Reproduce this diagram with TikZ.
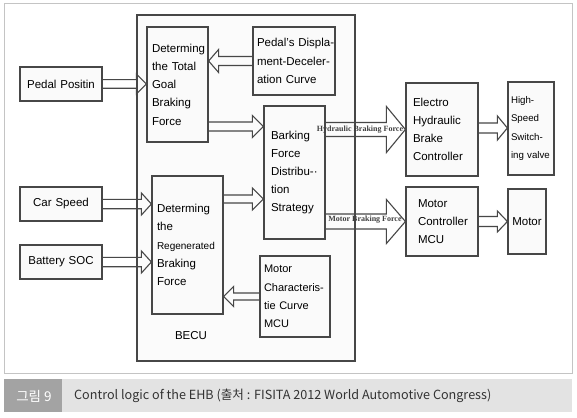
\documentclass[tikz,border=0pt]{standalone}
\usepackage{fontspec}
\setmainfont{Liberation Sans}
\newfontfamily\serifl{Liberation Serif}
\newfontfamily\kr{Noto Sans CJK KR}
\usetikzlibrary{calc}
\definecolor{bord}{HTML}{474747}
\definecolor{frame}{HTML}{C4C4C4}
\definecolor{capdark}{HTML}{A3A3A3}
\definecolor{caplight}{HTML}{E3E3E3}
\definecolor{captext}{HTML}{333333}
\tikzset{
  bx/.style={draw=bord, line width=1.2pt, fill=gray!4, inner ysep=0pt, align=left,
    font=\fontsize{11.5}{18.2}\selectfont\hyphenpenalty10000\exhyphenpenalty10000},
  inbx/.style={bx, align=center, minimum width=82pt, minimum height=34pt, text width=74pt, inner xsep=4pt},
  arr/.style={draw=bord, line width=1.1pt, line join=miter},
  lab/.style={font=\serifl\bfseries\fontsize{8}{9}\selectfont, text=black!75, inner sep=0pt},
}
\newcommand\barrow[5]{\draw[arr] let \p1=(#1), \p2=(#2) in
  (\x1,\y1+#3) -- ({\x2-(#5)},\y1+#3) -- ({\x2-(#5)},\y1+#4) -- (\x2,\y1)
  -- ({\x2-(#5)},\y1-#4) -- ({\x2-(#5)},\y1-#3) -- (\x1,\y1-#3);}
\begin{document}
\begin{tikzpicture}[x=1pt,y=-1pt]
\useasboundingbox (0,0) rectangle (577,417);
\fill[white] (0,0) rectangle (577,417);
\draw[frame, line width=1pt] (4,4) rectangle (572,373);
% BECU
\node[draw=bord, line width=1.5pt, fill=gray!3, minimum width=218pt, minimum height=346pt, inner sep=0pt] (becu) at (246,188) {};
\node[font=\fontsize{11.5}{14}\selectfont, inner sep=0pt] (becul) at (191,336) {BECU};
% input boxes
\node[inbx] (pp) at (61,84) {Pedal~Positin};
\node[inbx] (cs) at (61,204) {Car~Speed};
\node[inbx] (bs) at (61,262) {Battery~SOC};
% inner boxes
\node[bx, minimum width=61pt, minimum height=115pt, inner xsep=5pt, text width=51pt] (dt) at (177.5,84.5)
  {Determing\\the~Total\\Goal\\Braking\\Force};
\node[bx, minimum width=82pt, minimum height=68pt, inner xsep=4pt, text width=74pt] (pd) at (294,61)
  {Pedal’s~Displa-\\ment-Deceler-\\ation~Curve};
\node[bx, minimum width=61pt, minimum height=133pt, inner xsep=7pt, text width=47pt] (bf) at (294.5,172.5)
  {Barking\\Force\\Distribu-·\\tion\\Strategy};
\node[bx, minimum width=71pt, minimum height=138pt, inner xsep=5pt, text width=61pt] (rg) at (187.5,245)
  {Determing\\the\\{\fontsize{10}{18.2}\selectfont Regenerated}\\Braking\\Force};
\node[bx, minimum width=70pt, minimum height=81pt, inner xsep=4pt, text width=62pt,
  font=\fontsize{11}{18.2}\selectfont\hyphenpenalty10000\exhyphenpenalty10000] (mc) at (295,296.5)
  {Motor\\Characteris-\\tie~Curve\\MCU};
% right boxes
\node[bx, minimum width=72pt, minimum height=93pt, inner xsep=7pt, text width=58pt] (eh) at (442,129.5)
  {Electro\\Hydraulic\\Brake\\Controller};
\node[bx, minimum width=46pt, minimum height=93pt, inner xsep=3pt, text width=40pt,
  font=\fontsize{9.7}{18.5}\selectfont\hyphenpenalty10000\exhyphenpenalty10000] (hs) at (531,128.5)
  {High-\\Speed\\Switch-\\ing~valve};
\node[bx, minimum width=72pt, minimum height=69pt, inner xsep=12pt, text width=48pt] (mm) at (442,221.5)
  {Motor\\Controller\\MCU};
\node[bx, align=center, minimum width=38pt, minimum height=65pt, inner xsep=2pt, text width=34pt] (mo) at (527,221.5)
  {Motor};
% arrows
\barrow{pp.east}{pp.east -| dt.west}{4.3pt}{10pt}{10pt}
\barrow{pd.west}{pd.west -| dt.east}{4.5pt}{11.5pt}{-10pt}
\barrow{dt.east |- 0,126.5}{bf.west |- 0,126.5}{4.5pt}{11pt}{11pt}
\barrow{cs.east}{cs.east -| rg.west}{4.7pt}{11pt}{10pt}
\barrow{bs.east}{bs.east -| rg.west}{4.7pt}{11pt}{10pt}
\barrow{rg.east |- 0,199}{bf.west |- 0,199}{4pt}{11pt}{11pt}
\barrow{mc.west}{mc.west -| rg.east}{3.5pt}{10pt}{-10pt}
\barrow{bf.east |- eh.west}{eh.west}{7pt}{23pt}{19pt}
\barrow{bf.east |- mm.west}{mm.west}{7.5pt}{22pt}{19pt}
\barrow{eh.east |- 0,128}{hs.west |- 0,128}{5pt}{12pt}{10pt}
\barrow{mm.east}{mm.east -| mo.west}{5pt}{10.5pt}{10pt}
\node[lab] (lh) at (360,130) {Hydraulic Braking Force};
\node[lab] (lm) at (365,220) {Motor Braking Force};
% caption
\fill[capdark] (4,379) rectangle (62,412);
\fill[caplight] (62,379) rectangle (572,412);
\node[font=\kr\fontsize{13.5}{15}\selectfont, text=white, inner sep=0pt] (capnum) at (34,396) {그림 9};
\node[font=\kr\fontsize{12.6}{15}\selectfont, text=captext, inner sep=0pt, anchor=west] (captxt) at (74,396)
  {Control logic of the EHB (출처 : FISITA 2012 World Automotive Congress)};
\end{tikzpicture}
\end{document}
